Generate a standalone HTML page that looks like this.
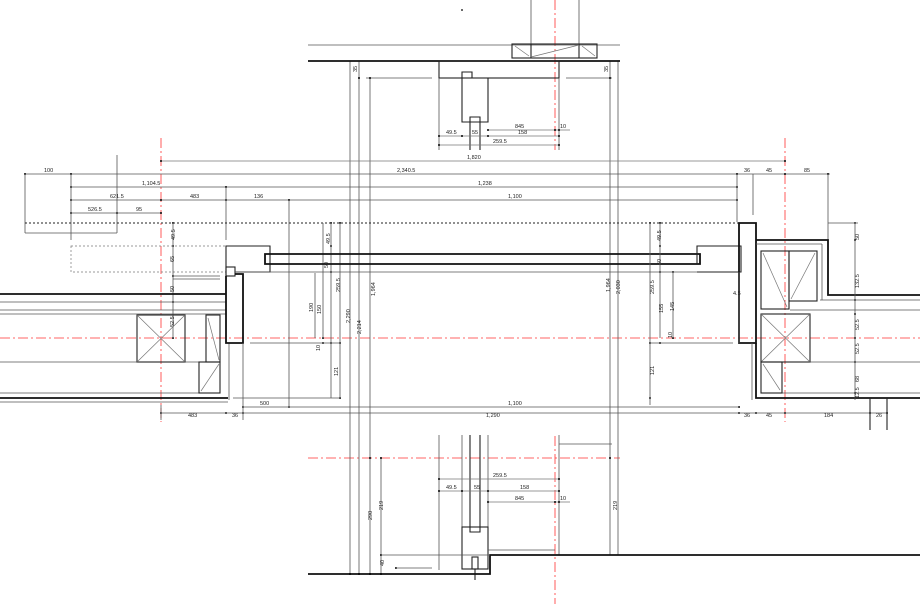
<!DOCTYPE html>
<html><head><meta charset="utf-8"><style>
html,body{margin:0;padding:0;background:#fff;width:920px;height:604px;overflow:hidden}
svg{display:block}
text{font-family:"Liberation Sans",sans-serif;font-size:5.5px;fill:#222}
.t{stroke:#555;stroke-width:0.8;fill:none}
.d{stroke:#777;stroke-width:0.7;fill:none}
.k{stroke:#111;stroke-width:1.8;fill:none}
.m{stroke:#222;stroke-width:1.1;fill:none}
.r{stroke:#f33;stroke-width:0.8;stroke-dasharray:10,3,2,3;fill:none}
.dt{stroke:#222;stroke-width:0.9;stroke-dasharray:2,2;fill:none}
.dg{stroke:#777;stroke-width:0.7;stroke-dasharray:2,2;fill:none}
circle{fill:#000}
</style></head><body>
<svg width="920" height="604" viewBox="0 0 920 604" xmlns="http://www.w3.org/2000/svg">
<line class="r" x1="161" y1="138" x2="161" y2="422"/>
<line class="r" x1="785" y1="138" x2="785" y2="422"/>
<line class="r" x1="0" y1="338" x2="920" y2="338"/>
<line class="r" x1="555" y1="0" x2="555" y2="150"/>
<line class="r" x1="555" y1="436" x2="555" y2="604"/>
<line class="r" x1="308" y1="458" x2="620" y2="458"/>
<line class="t" x1="350" y1="61" x2="350" y2="574"/>
<line class="t" x1="359" y1="61" x2="359" y2="574"/>
<line class="t" x1="370" y1="78" x2="370" y2="574"/>
<line class="t" x1="381" y1="458" x2="381" y2="574"/>
<line class="t" x1="610" y1="61" x2="610" y2="555"/>
<line class="t" x1="618" y1="61" x2="618" y2="555"/>
<line class="t" x1="308" y1="45" x2="620" y2="45"/>
<line class="k" x1="308" y1="61" x2="620" y2="61"/>
<line class="t" x1="531" y1="0" x2="531" y2="44"/>
<line class="t" x1="579" y1="0" x2="579" y2="44"/>
<rect class="m" x="512" y="44" width="85" height="14"/>
<line class="m" x1="531" y1="44" x2="531" y2="58"/><line class="m" x1="579" y1="44" x2="579" y2="58"/>
<line class="d" x1="531" y1="57" x2="579" y2="45"/><line class="d" x1="515" y1="46" x2="529" y2="56"/><line class="d" x1="582" y1="46" x2="595" y2="56"/>
<circle cx="462" cy="10" r="0.9"/>
<rect class="m" x="439" y="61" width="120" height="17"/>
<path class="m" d="M462,78 V72 H472 V78 H488 V122 H462 Z"/>
<path class="m" d="M470,150 V117 H480 V150"/>
<line class="t" x1="439" y1="78" x2="439" y2="150"/><line class="t" x1="559" y1="78" x2="559" y2="150"/>
<line class="t" x1="366" y1="78" x2="432" y2="78"/><line class="t" x1="566" y1="78" x2="612" y2="78"/>
<text x="353" y="72" transform="rotate(-90 355 70)">35</text><text x="604" y="72" transform="rotate(-90 606 70)">35</text>
<line class="d" x1="488" y1="130" x2="570" y2="130"/><text x="515" y="128">845</text><text x="560" y="128">10</text>
<line class="d" x1="439" y1="136" x2="559" y2="136"/><text x="446" y="134">49.5</text><text x="472" y="134">55</text><text x="518" y="134">158</text>
<line class="d" x1="439" y1="145" x2="559" y2="145"/><text x="493" y="143">259.5</text>
<g>
<circle cx="488" cy="130" r="1"/><circle cx="555" cy="130" r="1"/><circle cx="559" cy="130" r="1"/>
<circle cx="439" cy="136" r="1"/><circle cx="462" cy="136" r="1"/><circle cx="488" cy="136" r="1"/><circle cx="559" cy="136" r="1"/>
<circle cx="439" cy="145" r="1"/><circle cx="559" cy="145" r="1"/>
<circle cx="359" cy="78" r="1"/><circle cx="370" cy="78" r="1"/><circle cx="610" cy="78" r="1"/>
</g>
<line class="d" x1="161" y1="161" x2="785" y2="161"/><text x="467" y="159">1,820</text>
<line class="t" x1="25" y1="174" x2="830" y2="174"/><text x="44" y="172">100</text><text x="397" y="172">2,340.5</text><text x="744" y="172">36</text><text x="766" y="172">45</text><text x="804" y="172">85</text>
<line class="t" x1="71" y1="187" x2="737" y2="187"/><text x="142" y="185">1,104.5</text><text x="478" y="185">1,238</text>
<line class="t" x1="71" y1="200" x2="737" y2="200"/><text x="110" y="198">621.5</text><text x="190" y="198">483</text><text x="254" y="198">136</text><text x="508" y="198">1,100</text>
<line class="t" x1="71" y1="213" x2="161" y2="213"/><text x="88" y="211">526.5</text><text x="136" y="211">95</text>
<g>
<circle cx="161" cy="161" r="1"/><circle cx="785" cy="161" r="1"/>
<circle cx="25" cy="174" r="1"/><circle cx="71" cy="174" r="1"/><circle cx="737" cy="174" r="1"/><circle cx="785" cy="174" r="1"/><circle cx="828" cy="174" r="1"/>
<circle cx="71" cy="187" r="1"/><circle cx="226" cy="187" r="1"/><circle cx="737" cy="187" r="1"/>
<circle cx="71" cy="200" r="1"/><circle cx="161" cy="200" r="1"/><circle cx="226" cy="200" r="1"/><circle cx="289" cy="200" r="1"/><circle cx="737" cy="200" r="1"/>
<circle cx="71" cy="213" r="1"/><circle cx="117" cy="213" r="1"/><circle cx="161" cy="213" r="1"/>
<circle cx="173" cy="223" r="1"/><circle cx="173" cy="246" r="1"/><circle cx="173" cy="276" r="1"/><circle cx="173" cy="302" r="1"/><circle cx="173" cy="338" r="1"/>
<circle cx="331" cy="223" r="1"/><circle cx="340" cy="223" r="1"/><circle cx="331" cy="246" r="1"/><circle cx="331" cy="272" r="1"/>
<circle cx="323" cy="338" r="1"/><circle cx="323" cy="343" r="1"/><circle cx="331" cy="343" r="1"/><circle cx="340" cy="343" r="1"/><circle cx="340" cy="398" r="1"/>
<circle cx="650" cy="223" r="1"/><circle cx="660" cy="223" r="1"/><circle cx="660" cy="246" r="1"/><circle cx="660" cy="272" r="1"/><circle cx="673" cy="272" r="1"/>
<circle cx="660" cy="343" r="1"/><circle cx="673" cy="338" r="1"/><circle cx="650" cy="343" r="1"/><circle cx="650" cy="398" r="1"/>
<circle cx="855" cy="223" r="1"/><circle cx="855" cy="240" r="1"/><circle cx="855" cy="300" r="1"/><circle cx="855" cy="314" r="1"/><circle cx="855" cy="338" r="1"/><circle cx="855" cy="362" r="1"/><circle cx="855" cy="393" r="1"/><circle cx="855" cy="398" r="1"/>
<circle cx="243" cy="407" r="1"/><circle cx="739" cy="407" r="1"/><circle cx="289" cy="407" r="1"/>
<circle cx="161" cy="413" r="1"/><circle cx="226" cy="413" r="1"/><circle cx="243" cy="413" r="1"/><circle cx="739" cy="413" r="1"/><circle cx="756" cy="413" r="1"/><circle cx="785" cy="413" r="1"/><circle cx="870" cy="413" r="1"/><circle cx="887" cy="413" r="1"/>
</g>
<line class="t" x1="25" y1="174" x2="25" y2="233"/><line class="t" x1="25" y1="233" x2="117" y2="233"/><line class="t" x1="117" y1="155" x2="117" y2="233"/>
<line class="t" x1="71" y1="174" x2="71" y2="240"/>
<line class="t" x1="226" y1="187" x2="226" y2="240"/><line class="t" x1="289" y1="200" x2="289" y2="408"/>
<line class="t" x1="737" y1="174" x2="737" y2="222"/><line class="t" x1="753" y1="174" x2="753" y2="215"/><line class="t" x1="828" y1="174" x2="828" y2="240"/>
<line class="dt" x1="25" y1="223" x2="739" y2="223"/>
<rect class="dg" x="71" y="246" width="155" height="26"/>
<line class="t" x1="173" y1="223" x2="173" y2="338"/>
<text x="170" y="241" transform="rotate(-90 172 238)">49.5</text><text x="170" y="262" transform="rotate(-90 172 260)">65</text><text x="170" y="292" transform="rotate(-90 172 290)">50</text><text x="170" y="327" transform="rotate(-90 172 325)">52.5</text>
<line class="t" x1="323" y1="223" x2="323" y2="338"/><line class="t" x1="331" y1="223" x2="331" y2="398"/><line class="t" x1="340" y1="223" x2="340" y2="398"/>
<line class="t" x1="315" y1="273" x2="315" y2="338"/><line class="t" x1="250" y1="343" x2="340" y2="343"/>
<text x="318" y="240" transform="rotate(-90 326 236)">49.5</text><text x="318" y="262" transform="rotate(-90 326 260)">50</text>
<text x="330" y="290" transform="rotate(-90 336 286)">259.5</text><text x="303" y="310" transform="rotate(-90 309 306)">190</text><text x="311" y="312" transform="rotate(-90 317 308)">150</text>
<text x="337" y="322" transform="rotate(-90 344 316)">2,290</text><text x="347" y="332" transform="rotate(-90 355 326)">2,214</text><text x="363" y="292" transform="rotate(-90 371 288)">1,964</text>
<text x="328" y="374" transform="rotate(-90 334 370)">121</text><text x="313" y="348" transform="rotate(-90 318 346)">10</text>
<line class="t" x1="233" y1="398" x2="340" y2="398"/><text x="260" y="405">500</text>
<line class="k" x1="0" y1="294" x2="226" y2="294"/>
<line class="t" x1="0" y1="302" x2="226" y2="302"/><line class="t" x1="0" y1="310" x2="226" y2="310"/><line class="t" x1="0" y1="314" x2="226" y2="314"/>
<line class="t" x1="0" y1="362" x2="200" y2="362"/>
<line class="t" x1="0" y1="393" x2="220" y2="393"/>
<line class="k" x1="0" y1="398" x2="228" y2="398"/>
<line class="t" x1="0" y1="402" x2="228" y2="402"/>
<rect class="m" x="137" y="315" width="48" height="47"/><line class="d" x1="137" y1="315" x2="185" y2="362"/><line class="d" x1="185" y1="315" x2="137" y2="362"/>
<rect class="m" x="206" y="315" width="14" height="47"/><line class="d" x1="208" y1="318" x2="219" y2="360"/>
<rect class="m" x="199" y="362" width="21" height="31"/><line class="d" x1="201" y1="391" x2="219" y2="364"/>
<line class="t" x1="229" y1="343" x2="229" y2="400"/>
<path class="m" d="M226,294 V246 H270 V272 H235"/>
<rect class="m" x="226" y="267" width="9" height="9"/>
<path class="k" d="M226,276 V343 H243 V274 H235"/>
<path class="k" d="M265,264 V254 H700 V264 Z"/>
<line class="t" x1="235" y1="272" x2="697" y2="272"/>
<line class="t" x1="173" y1="276" x2="220" y2="276"/><line class="t" x1="173" y1="279" x2="220" y2="279"/>
<path class="m" d="M697,264 V246 H741 V272 H697"/>
<path class="k" d="M739,223 H756 V343 H739 Z"/>
<line class="t" x1="739" y1="272" x2="739" y2="343"/>
<line class="t" x1="650" y1="223" x2="650" y2="405"/><line class="t" x1="660" y1="223" x2="660" y2="338"/><line class="t" x1="673" y1="272" x2="673" y2="338"/>
<line class="t" x1="650" y1="343" x2="733" y2="343"/>
<text x="652" y="240" transform="rotate(-90 657 236)">49.5</text><text x="654" y="262" transform="rotate(-90 659 260)">50</text>
<text x="644" y="292" transform="rotate(-90 650 288)">259.5</text><text x="654" y="312" transform="rotate(-90 659 308)">155</text><text x="665" y="310" transform="rotate(-90 670 306)">145</text>
<text x="666" y="336" transform="rotate(-90 670 334)">10</text><text x="645" y="374" transform="rotate(-90 650 370)">121</text>
<text x="600" y="290" transform="rotate(-90 606 286)">1,964</text><text x="610" y="292" transform="rotate(-90 616 288)">2,030</text>
<text x="733" y="295">4.5</text>
<path class="k" d="M756,240 H828 V295 H920"/>
<line class="t" x1="756" y1="244" x2="822" y2="244"/>
<line class="t" x1="822" y1="244" x2="822" y2="300"/>
<line class="t" x1="820" y1="300" x2="920" y2="300"/><line class="t" x1="790" y1="310" x2="920" y2="310"/>
<line class="t" x1="810" y1="362" x2="920" y2="362"/>
<line class="t" x1="782" y1="393" x2="920" y2="393"/>
<path class="k" d="M756,343 V398 H920"/>
<line class="t" x1="752" y1="343" x2="752" y2="400"/>
<rect class="m" x="761" y="251" width="28" height="58"/><line class="d" x1="763" y1="253" x2="787" y2="307"/>
<rect class="m" x="789" y="251" width="28" height="50"/><line class="d" x1="815" y1="253" x2="791" y2="299"/>
<rect class="m" x="761" y="314" width="49" height="48"/><line class="d" x1="761" y1="314" x2="810" y2="362"/><line class="d" x1="810" y1="314" x2="761" y2="362"/>
<rect class="m" x="761" y="362" width="21" height="31"/><line class="d" x1="763" y1="364" x2="780" y2="390"/>
<line class="t" x1="855" y1="223" x2="855" y2="400"/>
<line class="t" x1="828" y1="223" x2="858" y2="223"/>
<text x="851" y="240" transform="rotate(-90 855 236)">50</text><text x="851" y="288" transform="rotate(-90 855 284)">132.5</text>
<text x="851" y="330" transform="rotate(-90 855 326)">52.5</text><text x="851" y="354" transform="rotate(-90 855 350)">52.5</text>
<text x="851" y="382" transform="rotate(-90 855 378)">68</text><text x="851" y="398" transform="rotate(-90 855 394)">12.5</text>
<line class="t" x1="243" y1="407" x2="739" y2="407"/><text x="508" y="405">1,100</text>
<line class="t" x1="161" y1="413" x2="887" y2="413"/>
<text x="188" y="417">483</text><text x="232" y="417">36</text><text x="486" y="417">1,290</text><text x="744" y="417">36</text><text x="766" y="417">45</text><text x="824" y="417">184</text><text x="876" y="417">26</text>
<line class="t" x1="161" y1="405" x2="161" y2="420"/><line class="t" x1="243" y1="343" x2="243" y2="420"/>
<line class="m" x1="870" y1="398" x2="870" y2="430"/><line class="m" x1="887" y1="398" x2="887" y2="430"/>
<line class="t" x1="439" y1="435" x2="439" y2="570"/><line class="t" x1="559" y1="435" x2="559" y2="555"/>
<line class="t" x1="462" y1="435" x2="462" y2="527"/><line class="t" x1="488" y1="435" x2="488" y2="527"/>
<path class="m" d="M470,435 V532 H480 V435"/>
<rect class="m" x="462" y="527" width="26" height="42"/>
<rect class="m" x="472" y="557" width="6" height="12"/>
<line class="m" x1="475" y1="569" x2="475" y2="580"/>
<path class="k" d="M308,574 H490 V555 H920"/>
<line class="t" x1="488" y1="550" x2="555" y2="550"/>
<line class="t" x1="559" y1="444" x2="612" y2="444"/>
<line class="d" x1="439" y1="479" x2="559" y2="479"/><text x="493" y="477">259.5</text>
<line class="d" x1="439" y1="491" x2="559" y2="491"/><text x="446" y="489">49.5</text><text x="474" y="489">55</text><text x="520" y="489">158</text>
<line class="d" x1="488" y1="502" x2="570" y2="502"/><text x="515" y="500">845</text><text x="560" y="500">10</text>
<g>
<circle cx="439" cy="479" r="1"/><circle cx="559" cy="479" r="1"/>
<circle cx="439" cy="491" r="1"/><circle cx="462" cy="491" r="1"/><circle cx="488" cy="491" r="1"/><circle cx="559" cy="491" r="1"/>
<circle cx="488" cy="502" r="1"/><circle cx="555" cy="502" r="1"/><circle cx="559" cy="502" r="1"/>
<circle cx="370" cy="458" r="1"/><circle cx="381" cy="458" r="1"/><circle cx="381" cy="555" r="1"/><circle cx="610" cy="458" r="1"/>
<circle cx="350" cy="574" r="1"/><circle cx="359" cy="574" r="1"/><circle cx="370" cy="574" r="1"/><circle cx="381" cy="574" r="1"/><circle cx="396" cy="568" r="1"/>
</g>
<line class="t" x1="381" y1="555" x2="490" y2="555"/>
<line class="t" x1="396" y1="568" x2="432" y2="568"/>
<text x="364" y="520" transform="rotate(-90 368 516)">290</text><text x="375" y="510" transform="rotate(-90 379 506)">219</text>
<text x="609" y="510" transform="rotate(-90 613 506)">219</text><text x="376" y="566" transform="rotate(-90 380 562)">40</text>
</svg>
</body></html>
